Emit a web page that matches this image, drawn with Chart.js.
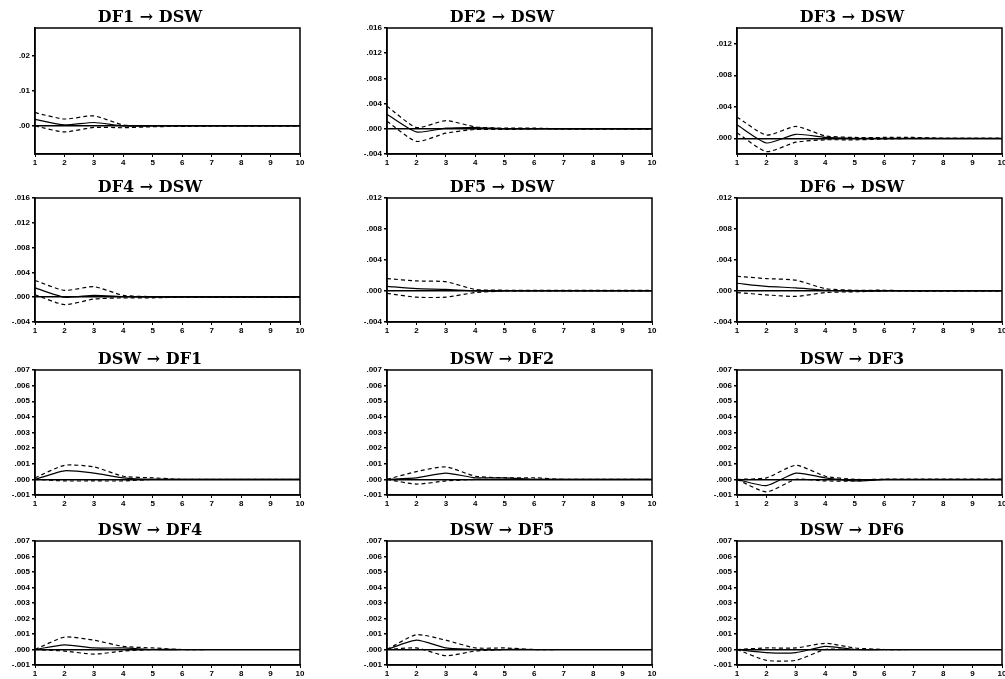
<!DOCTYPE html>
<html>
<head>
<meta charset="utf-8">
<script src="https://cdn.jsdelivr.net/npm/chart.js@4.4.0/dist/chart.umd.min.js"></script>
<style>
  html, body { margin: 0; padding: 0; background: #fff; }
  body { width: 1005px; height: 679px; position: relative; overflow: hidden; }
  canvas { position: absolute; }
</style>
</head>
<body>
<script>
const periods = ['1', '2', '3', '4', '5', '6', '7', '8', '9', '10'];

// DF -> DSW
const df1Resp = [0.0019, 0.0003, 0.0010, 0.0000, 0.0000, 0, 0, 0, 0, 0];
const df1Up   = [0.0038, 0.0020, 0.0029, 0.0003, 0.0001, 0.0001, 0, 0, 0, 0];
const df1Lo   = [0.0000, -0.0017, -0.0004, -0.0005, -0.0002, -0.0001, 0, 0, 0, 0];

const df2Resp = [0.0023, -0.0005, 0.0001, 0.0002, 0.0000, 0, 0, 0, 0, 0];
const df2Up   = [0.0036, 0.0002, 0.0013, 0.0003, 0.0001, 0.0001, 0, 0, 0, 0];
const df2Lo   = [0.0012, -0.0020, -0.0007, -0.0001, -0.0001, 0, 0, 0, 0, 0];

const df3Resp = [0.0017, -0.0006, 0.0005, 0.0001, 0.0000, 0, 0, 0, 0, 0];
const df3Up   = [0.0027, 0.0004, 0.0015, 0.0003, 0.0001, 0.0001, 0.0001, 0, 0, 0];
const df3Lo   = [0.0007, -0.0017, -0.0005, -0.0002, -0.0002, -0.0001, 0, 0, 0, 0];

const df4Resp = [0.0015, 0.0000, 0.0003, 0.0001, 0.0000, 0, 0, 0, 0, 0];
const df4Up   = [0.0027, 0.0011, 0.0017, 0.0003, 0.0001, 0.0001, 0, 0, 0, 0];
const df4Lo   = [0.0004, -0.0012, -0.0003, -0.0001, -0.0001, 0, 0, 0, 0, 0];

const df5Resp = [0.0006, 0.0003, 0.0002, 0.0000, 0.0000, 0, 0, 0, 0, 0];
const df5Up   = [0.0016, 0.0013, 0.0012, 0.0002, 0.0001, 0.0001, 0.0001, 0.0001, 0.0001, 0.0001];
const df5Lo   = [-0.0003, -0.0008, -0.0008, -0.0002, 0.0000, 0, 0, 0, 0, 0];

const df6Resp = [0.0010, 0.0006, 0.0004, 0.0001, 0.0000, 0, 0, 0, 0, 0];
const df6Up   = [0.0019, 0.0016, 0.0014, 0.0003, 0.0001, 0.0001, 0, 0, 0, 0];
const df6Lo   = [-0.0002, -0.0005, -0.0007, -0.0002, -0.0001, 0, 0, 0, 0, 0];

// DSW -> DF
const dsw1Resp = [0, 0.00055, 0.0004, 0.0001, 0, 0, 0, 0, 0, 0];
const dsw1Up   = [0.0001, 0.0009, 0.0008, 0.0002, 0.0001, 0, 0, 0, 0, 0];
const dsw1Lo   = [0, -0.0001, -0.0001, -0.0001, 0, 0, 0, 0, 0, 0];

const dsw2Resp = [0, 0.0001, 0.0004, 0.0001, 0.0001, 0, 0, 0, 0, 0];
const dsw2Up   = [0, 0.0005, 0.0008, 0.0002, 0.0001, 0.0001, 0, 0, 0, 0];
const dsw2Lo   = [0, -0.0003, -0.0001, 0, 0, 0, 0, 0, 0, 0];

const dsw3Resp = [0, -0.0004, 0.0004, 0.0001, -0.0001, 0, 0, 0, 0, 0];
const dsw3Up   = [0, 0.0001, 0.0009, 0.0002, 0, 0, 0, 0, 0, 0];
const dsw3Lo   = [0, -0.0008, 0, -0.0001, -0.0001, 0, 0, 0, 0, 0];

const dsw4Resp = [0, 0.0003, 0.0001, 0.0001, 0, 0, 0, 0, 0, 0];
const dsw4Up   = [0, 0.0008, 0.0006, 0.0002, 0.0001, 0, 0, 0, 0, 0];
const dsw4Lo   = [0, -0.0001, -0.0003, -0.0001, 0, 0, 0, 0, 0, 0];

const dsw5Resp = [0, 0.0006, 0.0001, 0, 0, 0, 0, 0, 0, 0];
const dsw5Up   = [0, 0.00095, 0.0006, 0.0001, 0.0001, 0, 0, 0, 0, 0];
const dsw5Lo   = [0, 0.0001, -0.0004, -0.0001, 0, 0, 0, 0, 0, 0];

const dsw6Resp = [0, -0.0002, -0.0002, 0.0002, 0, 0, 0, 0, 0, 0];
const dsw6Up   = [0, 0.0001, 0.0001, 0.0004, 0.0001, 0, 0, 0, 0, 0];
const dsw6Lo   = [0, -0.0007, -0.0007, 0, 0, 0, 0, 0, 0, 0];

// y tick values
const ticksA = [0, 0.01, 0.02];
const ticksB = [-0.004, 0, 0.004, 0.008, 0.012, 0.016];
const ticksC = [0, 0.004, 0.008, 0.012];
const ticksD = [-0.004, 0, 0.004, 0.008, 0.012];
const ticksE = [-0.001, 0, 0.001, 0.002, 0.003, 0.004, 0.005, 0.006, 0.007];

const panels = [
  { title: 'DF1 \u2192 DSW', resp: df1Resp, up: df1Up, lo: df1Lo, min: -0.008, max: 0.028, ticks: ticksA, dp: 2 },
  { title: 'DF2 \u2192 DSW', resp: df2Resp, up: df2Up, lo: df2Lo, min: -0.004, max: 0.016, ticks: ticksB, dp: 3 },
  { title: 'DF3 \u2192 DSW', resp: df3Resp, up: df3Up, lo: df3Lo, min: -0.002, max: 0.014, ticks: ticksC, dp: 3 },
  { title: 'DF4 \u2192 DSW', resp: df4Resp, up: df4Up, lo: df4Lo, min: -0.004, max: 0.016, ticks: ticksB, dp: 3 },
  { title: 'DF5 \u2192 DSW', resp: df5Resp, up: df5Up, lo: df5Lo, min: -0.004, max: 0.012, ticks: ticksD, dp: 3 },
  { title: 'DF6 \u2192 DSW', resp: df6Resp, up: df6Up, lo: df6Lo, min: -0.004, max: 0.012, ticks: ticksD, dp: 3 },
  { title: 'DSW \u2192 DF1', resp: dsw1Resp, up: dsw1Up, lo: dsw1Lo, min: -0.001, max: 0.007, ticks: ticksE, dp: 3 },
  { title: 'DSW \u2192 DF2', resp: dsw2Resp, up: dsw2Up, lo: dsw2Lo, min: -0.001, max: 0.007, ticks: ticksE, dp: 3 },
  { title: 'DSW \u2192 DF3', resp: dsw3Resp, up: dsw3Up, lo: dsw3Lo, min: -0.001, max: 0.007, ticks: ticksE, dp: 3 },
  { title: 'DSW \u2192 DF4', resp: dsw4Resp, up: dsw4Up, lo: dsw4Lo, min: -0.001, max: 0.007, ticks: ticksE, dp: 3 },
  { title: 'DSW \u2192 DF5', resp: dsw5Resp, up: dsw5Up, lo: dsw5Lo, min: -0.001, max: 0.007, ticks: ticksE, dp: 3 },
  { title: 'DSW \u2192 DF6', resp: dsw6Resp, up: dsw6Up, lo: dsw6Lo, min: -0.001, max: 0.007, ticks: ticksE, dp: 3 },
];

// grid placement (plot area left / top / height)
const colLeft = [35, 387, 737];
const rowTop = [28, 198, 370, 541];
const rowH = [126, 124, 125, 124];
const AXIS_W = 35, PLOT_W = 265, TOP_H = 26, BOT_H = 16;

// draws the box around the plot
const framePlugin = {
  id: 'frame',
  afterDraw(chart) {
    const a = chart.chartArea;
    const c = chart.ctx;
    c.save();
    c.strokeStyle = '#000';
    c.lineWidth = 1.5;
    c.strokeRect(a.left, a.top, a.right - a.left, a.bottom - a.top);
    c.restore();
  }
};

function fmt(v, dp) {
  if (Math.abs(v) < 1e-12) return (0).toFixed(dp).slice(1);
  const s = Math.abs(v).toFixed(dp).slice(1);
  return v < 0 ? '-' + s : s;
}

const tickFont = { family: 'Liberation Sans', size: 8, weight: 'bold' };

panels.forEach((p, i) => {
  const col = i % 3, row = Math.floor(i / 3);
  const cv = document.createElement('canvas');
  const w = AXIS_W + PLOT_W + AXIS_W;
  const h = TOP_H + rowH[row] + BOT_H;
  cv.width = w;
  cv.height = h;
  cv.style.left = (colLeft[col] - AXIS_W) + 'px';
  cv.style.top = (rowTop[row] - TOP_H) + 'px';
  cv.style.width = w + 'px';
  cv.style.height = h + 'px';
  document.body.appendChild(cv);

  new Chart(cv.getContext('2d'), {
    type: 'line',
    data: {
      labels: periods,
      datasets: [
        { data: p.resp, borderColor: '#000', borderWidth: 1.2, pointRadius: 0, tension: 0.2 },
        { data: p.up, borderColor: '#000', borderWidth: 1.2, borderDash: [4, 3], pointRadius: 0, tension: 0.2 },
        { data: p.lo, borderColor: '#000', borderWidth: 1.2, borderDash: [4, 3], pointRadius: 0, tension: 0.2 },
      ],
    },
    options: {
      responsive: false,
      animation: false,
      devicePixelRatio: 1,
      layout: { padding: { top: 6, left: 0, right: AXIS_W, bottom: 0 } },
      plugins: {
        legend: { display: false },
        tooltip: { enabled: false },
        title: {
          display: true,
          text: p.title,
          color: '#000',
          font: { family: 'DejaVu Serif', size: 16, weight: 'bold', lineHeight: 1.2 },
          padding: { top: 0, bottom: 0.8 },
        },
      },
      scales: {
        x: {
          type: 'category',
          offset: false,
          afterFit: (s) => { s.height = BOT_H; },
          grid: { drawOnChartArea: false, drawTicks: true, tickLength: 3, color: '#000' },
          border: { display: true, color: '#000', width: 1.5 },
          ticks: { color: '#000', font: tickFont, padding: 1, autoSkip: false, maxRotation: 0 },
        },
        y: {
          min: p.min,
          max: p.max,
          afterFit: (s) => { s.width = AXIS_W; },
          afterBuildTicks: (s) => { s.ticks = p.ticks.map((v) => ({ value: v })); },
          grid: {
            drawOnChartArea: true,
            drawTicks: true,
            tickLength: 3,
            // only the zero line is shown inside the plot
            color: (ctx) => (ctx.tick && Math.abs(ctx.tick.value) < 1e-12 ? '#000' : 'rgba(0,0,0,0)'),
            lineWidth: 1.5,
            tickColor: '#000',
          },
          border: { display: true, color: '#000', width: 1.5 },
          ticks: { color: '#000', font: tickFont, padding: 2, callback: (v) => fmt(v, p.dp) },
        },
      },
    },
    plugins: [framePlugin],
  });
});
</script>
</body>
</html>
